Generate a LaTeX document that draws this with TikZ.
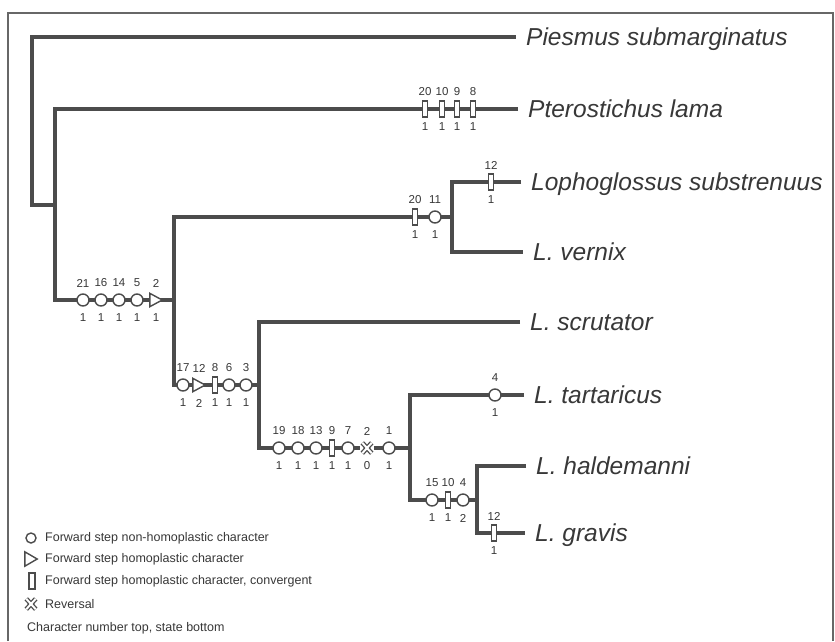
\documentclass[tikz,border=0pt]{standalone}
\usepackage{fontspec}
\setmainfont{Liberation Sans}
\definecolor{ink}{HTML}{4C4C4C}
\definecolor{txt}{HTML}{383838}
\tikzset{
  branch/.style={draw=ink, line width=3.3pt, line join=miter},
  frameline/.style={draw=ink!85, line width=2.8pt, line join=miter},
  mkline/.style={draw=ink, line width=1.4pt},
  circmk/.style={circle, mkline, fill=white, minimum size=12pt, inner sep=0pt},
  rectmk/.style={rectangle, mkline, fill=white, minimum width=5pt, minimum height=16pt, inner sep=0pt},
  blankmk/.style={inner sep=0pt, minimum width=12pt, minimum height=13pt},
  num/.style={font=\fontsize{11.5}{12}\selectfont, text=txt, inner sep=0pt},
  taxon/.style={anchor=west, font=\fontsize{24.5}{28}\selectfont\itshape, text=txt,
    inner xsep=10pt, inner ysep=0pt, text height=17.5pt, text depth=0pt},
  legendtext/.style={anchor=west, font=\fontsize{12.5}{14}\selectfont, text=txt, inner sep=0pt},
}
% character number above, state below
\newcommand\numlab[5]{%
  \node[num] (#1t) at (#2,#3-17) {#4};
  \node[num] (#1b) at (#2,#3+18) {#5};}
\newcommand\circmark[5]{\node[circmk] (#1) at (#2,#3) {};\numlab{#1}{#2}{#3}{#4}{#5}}
\newcommand\rectmark[5]{\node[rectmk] (#1) at (#2,#3) {};\numlab{#1}{#2}{#3}{#4}{#5}}
\newcommand\trishape[1]{%
  \filldraw[mkline, fill=white] (#1.north west) -- (#1.east) -- (#1.south west) -- cycle;}
\newcommand\revshape[1]{%
  \fill[white] (#1.north west) rectangle (#1.south east);
  \draw[ink, line width=4.6pt] ([shift={(2.5,2.5)}]#1.north west) -- ([shift={(-2.5,-2.5)}]#1.south east)
    ([shift={(-2.5,2.5)}]#1.north east) -- ([shift={(2.5,-2.5)}]#1.south west);
  \draw[white, line width=2pt] ([shift={(2.5,2.5)}]#1.north west) -- ([shift={(-2.5,-2.5)}]#1.south east)
    ([shift={(-2.5,2.5)}]#1.north east) -- ([shift={(2.5,-2.5)}]#1.south west);}
\newcommand\trimark[5]{\node[blankmk] (#1) at (#2,#3) {};\trishape{#1}\numlab{#1}{#2}{#3}{#4}{#5}}
\newcommand\revmark[5]{\node[blankmk, minimum width=14pt, minimum height=15pt] (#1) at (#2,#3) {};\revshape{#1}\numlab{#1}{#2}{#3}{#4}{#5}}

\begin{document}
\begin{tikzpicture}[x=1pt,y=-1pt]
\useasboundingbox (0,0) rectangle (835,641);
\fill[white] (0,0) rectangle (835,641);

% outer frame
\draw[frameline] (8,641) -- (8,13) -- (833,13) -- (833,641);

% internal nodes of the tree
\coordinate (r)  at (32,205);
\coordinate (n1) at (55,205);
\coordinate (n2) at (174,300);
\coordinate (n3) at (452,217);
\coordinate (n4) at (259,385);
\coordinate (n5) at (410,448);
\coordinate (n6) at (477,500);

% terminal taxa
\node[taxon] (piesmus) at (516,37)  {Piesmus submarginatus};
\node[taxon] (ptero)   at (518,109) {Pterostichus lama};
\node[taxon] (lopho)   at (521,182) {Lophoglossus substrenuus};
\node[taxon] (vernix)  at (523,252) {L. vernix};
\node[taxon] (scrut)   at (520,322) {L. scrutator};
\node[taxon] (tart)    at (524,395) {L. tartaricus};
\node[taxon] (hald)    at (526,466) {L. haldemanni};
\node[taxon] (grav)    at (525,533) {L. gravis};

% branches
\draw[branch] (n1) -- (r) |- (piesmus.west);
\draw[branch] (ptero.west) -| (n1) |- (n2);
\draw[branch] (n3) -| (n2) |- (n4);
\draw[branch] (lopho.west) -| (n3) |- (vernix.west);
\draw[branch] (scrut.west) -| (n4) |- (n5);
\draw[branch] (tart.west) -| (n5) |- (n6);
\draw[branch] (hald.west) -| (n6) |- (grav.west);

% character changes: Pterostichus lama
\rectmark{pa}{425}{109}{20}{1}
\rectmark{pb}{442}{109}{10}{1}
\rectmark{pc}{457}{109}{9}{1}
\rectmark{pd}{473}{109}{8}{1}

% ingroup stem
\circmark{ia}{83}{300}{21}{1}
\circmark{ib}{101}{300}{16}{1}
\circmark{ic}{119}{300}{14}{1}
\circmark{id}{137}{300}{5}{1}
\trimark{ie}{156}{300}{2}{1}

% Lophoglossus substrenuus + L. vernix
\rectmark{la}{415}{217}{20}{1}
\circmark{lb}{435}{217}{11}{1}
\rectmark{lc}{491}{182}{12}{1}

% remaining Lophoglossus
\circmark{sa}{183}{385}{17}{1}
\trimark{sb}{199}{385}{12}{2}
\rectmark{sc}{215}{385}{8}{1}
\circmark{sd}{229}{385}{6}{1}
\circmark{se}{246}{385}{3}{1}

\circmark{ta}{279}{448}{19}{1}
\circmark{tb}{298}{448}{18}{1}
\circmark{tc}{316}{448}{13}{1}
\rectmark{td}{332}{448}{9}{1}
\circmark{te}{348}{448}{7}{1}
\revmark{tf}{367}{448}{2}{0}
\circmark{tg}{389}{448}{1}{1}

\circmark{ua}{495}{395}{4}{1}

\circmark{ha}{432}{500}{15}{1}
\rectmark{hb}{448}{500}{10}{1}
\circmark{hc}{463}{500}{4}{2}

\rectmark{ga}{494}{533}{12}{1}

% legend
\node[circmk, minimum size=10pt] (lg1) at (31,538) {};
\node[legendtext] (lg1t) at (45,538) {Forward step non-homoplastic character};
\node[blankmk, minimum width=12pt, minimum height=14pt] (lg2) at (31,559) {};
\trishape{lg2}
\node[legendtext] (lg2t) at (45,559) {Forward step homoplastic character};
\node[rectmk, minimum width=6pt, minimum height=16pt] (lg3) at (32,581) {};
\node[legendtext] (lg3t) at (45,581) {Forward step homoplastic character, convergent};
\node[blankmk, minimum width=14pt, minimum height=15pt] (lg4) at (31,604) {};
\revshape{lg4}
\node[legendtext] (lg4t) at (45,604) {Reversal};
\node[legendtext] (lg5t) at (27,628) {Character number top, state bottom};
\end{tikzpicture}
\end{document}
